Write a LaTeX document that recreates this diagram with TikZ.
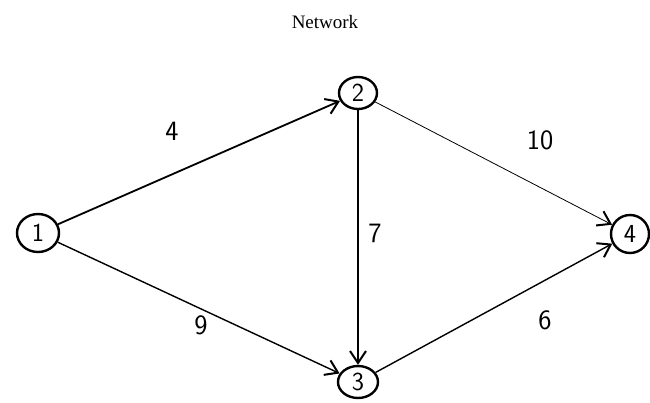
\documentclass[tikz,border=0pt]{standalone}
\usepackage{fontspec}
\setmainfont{Liberation Serif}
\usetikzlibrary{arrows.meta,shapes.geometric}
\begin{document}
\begin{tikzpicture}[x=1pt,y=-1pt,
  vert/.style={draw,line width=2.4pt,ellipse,minimum width=38pt,minimum height=32pt,inner sep=0pt,font=\fontsize{26}{28}\selectfont\sffamily},
  edge/.style={line width=1.4pt,-{Straight Barb[length=12pt,width=16pt,line width=2pt]}},
  wlab/.style={font=\fontsize{28}{30}\selectfont\sffamily}]
\useasboundingbox (0,0) rectangle (650,402);
\node[font=\fontsize{19}{22}\selectfont] (t) at (325,22) {Network};
\node[vert,minimum width=42pt,minimum height=38pt] (n1) at (38,233) {1};
\node[vert] (n2) at (358,93) {2};
\node[vert,minimum width=40pt] (n3) at (358,382) {3};
\node[vert,minimum width=38pt,minimum height=38pt] (n4) at (630,234) {4};
\draw[edge,line width=1.8pt] (n1) -- (n2);
\draw[edge] (n1) -- (n3);
\draw[edge,line width=1.8pt] (n2) -- (n3);
\draw[edge,line width=0.8pt] (n2) -- (n4);
\draw[edge] (n3) -- (n4);
\node[wlab] (l4) at (172,131) {4};
\node[wlab] (l10) at (540,140) {10};
\node[wlab] (l7) at (375,233) {7};
\node[wlab] (l9) at (201,325) {9};
\node[wlab] (l6) at (545,320) {6};
\end{tikzpicture}
\end{document}
